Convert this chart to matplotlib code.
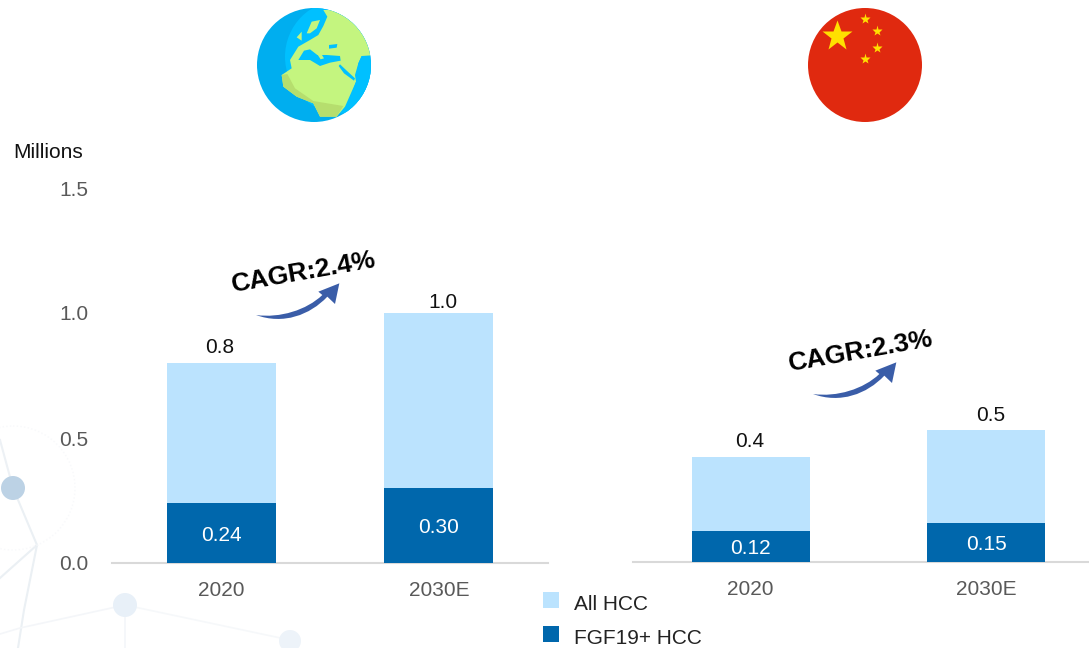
import matplotlib
matplotlib.use('Agg')
import matplotlib.pyplot as plt
from matplotlib.patches import Circle, Polygon, Rectangle, PathPatch
from matplotlib.path import Path

plt.rcParams['font.family'] = ['Liberation Sans', 'DejaVu Sans']

W, H = 1089, 648

categories = ['2020', '2030E']
world_all = [0.8, 1.0]
world_fgf = [0.24, 0.30]
china_all = [0.42, 0.53]
china_fgf = [0.125, 0.157]
world_total_labels = ['0.8', '1.0']
world_fgf_labels = ['0.24', '0.30']
china_total_labels = ['0.4', '0.5']
china_fgf_labels = ['0.12', '0.15']
yticks = [0.0, 0.5, 1.0, 1.5]
legend_labels = ['All HCC', 'FGF19+ HCC']

LIGHT = '#BBE3FE'
DARK = '#0067AC'
GREY = '#595959'
AXLINE = '#D9D9D9'
ARROW = '#3A5DA8'
SEA = '#00C0FF'
LAND = '#C4F57F'


def px_axes(fig, x0, x1, y_top, y_bot):
    return fig.add_axes([x0 / W, 1 - y_bot / H, (x1 - x0) / W, (y_bot - y_top) / H])


def draw_bars(ax, allv, fgf, total_labels, fgf_labels, nudges):
    xs = range(len(categories))
    ax.bar(xs, allv, width=0.5, color=LIGHT, zorder=2)
    ax.bar(xs, fgf, width=0.5, color=DARK, zorder=3)
    for i in xs:
        ax.annotate(total_labels[i], (i, allv[i]), xytext=nudges[i], textcoords='offset points',
                    ha='center', va='bottom', fontsize=15, color='#111111')
        ax.annotate(fgf_labels[i], (i, fgf[i] / 2), xytext=(0, -1.5), textcoords='offset points',
                    ha='center', va='center', fontsize=15, color='white', zorder=4)
    ax.set_xticks(list(xs))
    ax.set_xticklabels(categories)
    ax.set_ylim(0, 1.5)
    for s in ['top', 'right', 'left']:
        ax.spines[s].set_visible(False)
    ax.spines['bottom'].set_color(AXLINE)
    ax.spines['bottom'].set_linewidth(1.5)
    ax.tick_params(axis='x', length=0, pad=13, labelsize=15, labelcolor=GREY)
    ax.patch.set_alpha(0)


fig = plt.figure(figsize=(W / 100, H / 100), dpi=100)

# overlay in pixel coords for the decorations
bg = fig.add_axes([0, 0, 1, 1], zorder=0)
bg.set_xlim(0, W)
bg.set_ylim(H, 0)
bg.axis('off')

# faint network watermark
for x, y, c, lw in [
    ([13, 37, 24, 18], [488, 545, 610, 648], '#EBF0F4', 1.5),
    ([37, 0], [545, 578], '#EBF0F4', 1.5),
    ([0, 13], [440, 488], '#EDF1F5', 1.5),
    ([125, 20, 0], [605, 628, 634], '#F4F6F9', 1.2),
    ([125, 290], [605, 640], '#F6F8FA', 1.2),
    ([125, 125], [605, 648], '#F4F6F9', 1.2),
]:
    bg.plot(x, y, color=c, lw=lw, zorder=1)
bg.add_patch(Circle((13, 488), 12, fc='#BCD2E5', ec='none', zorder=2))
bg.add_patch(Circle((125, 605), 12, fc='#E8F0F8', ec='none', zorder=2))
bg.add_patch(Circle((290, 641), 11, fc='#EDF3F9', ec='none', zorder=2))
bg.add_patch(Circle((13, 488), 62, fc='none', ec='#F8F9FB', lw=1, ls=':', zorder=1))


def gz(pts):
    return [(x / 3 + 230, y / 3) for x, y in pts]


# globe
bg.add_patch(Circle((314, 65), 57, fc='#00AEEF', ec='none', zorder=3))
shapes = [
    (Circle((341.7, 56.7), 56.7), SEA),
    (Polygon(gz([(280, 30), (440, 30), (440, 165), (395, 168), (385, 190), (375, 225), (378, 245),
                 (345, 320), (320, 350), (270, 350), (250, 310), (200, 290), (160, 260), (155, 225),
                 (185, 205), (180, 180), (205, 140), (240, 120), (265, 105), (280, 78), (292, 50)])), LAND),
    (Polygon(gz([(155, 225), (172, 222), (195, 265), (250, 303), (340, 318), (320, 350), (270, 350),
                 (250, 310), (200, 290), (160, 260)])), '#B6DE6E'),
    (Polygon(gz([(205, 180), (222, 152), (240, 148), (262, 165), (290, 165), (330, 168), (332, 182),
                 (300, 188), (270, 198), (240, 180)])), SEA),
    (Polygon(gz([(250, 145), (262, 142), (282, 175), (272, 178)])), LAND),
    (Polygon(gz([(297, 135), (322, 132), (320, 143), (297, 146)])), SEA),
    (Polygon(gz([(200, 112), (215, 95), (215, 122)])), LAND),
    (Polygon(gz([(230, 100), (245, 65), (270, 60), (260, 85), (240, 100)])), LAND),
    (Polygon(gz([(330, 193), (348, 210), (375, 235), (372, 242), (342, 220), (326, 198)])), SEA),
    (Polygon(gz([(395, 168), (440, 190), (440, 260), (345, 345), (378, 245), (385, 190)])), SEA),
]
for p, c in shapes:
    p.set_facecolor(c)
    p.set_edgecolor('none')
    p.set_zorder(4)
    bg.add_patch(p)
    p.set_clip_path(Circle((314, 65), 57, transform=bg.transData))

# flag
bg.add_patch(Circle((865, 65), 57, fc='#E0290F', ec='none', zorder=3))
bg.plot([836.7], [36], marker='*', ms=23, color='#FFE000', mec='none', zorder=4)
for sx, sy in [(865, 19), (877, 31), (877, 48), (865, 59)]:
    bg.plot([sx], [sy], marker='*', ms=8, color='#FFE000', mec='none', zorder=4)

# globe and flag are cut off flat at the bottom
bg.add_patch(Rectangle((240, 122), 700, 6, fc='white', ec='none', zorder=5))

# bars
ax1 = px_axes(fig, 112, 548, 188, 563)
ax1.set_zorder(1)
ax1.set_xlim(-0.5, 1.5)
draw_bars(ax1, world_all, world_fgf, world_total_labels, world_fgf_labels, [(-1, 4), (3, 1)])
ax1.set_yticks(yticks)
ax1.set_yticklabels(['%.1f' % v for v in yticks])
ax1.tick_params(axis='y', length=0, pad=17, labelsize=15, labelcolor=GREY)

ax2 = px_axes(fig, 633, 1089, 187, 562)
ax2.set_zorder(1)
ax2.set_xlim(-0.5, 1.437)
draw_bars(ax2, china_all, china_fgf, china_total_labels, china_fgf_labels, [(-1, 4), (3.5, 3)])
ax2.set_yticks([])

# text and arrows on top
top = fig.add_axes([0, 0, 1, 1], zorder=2)
top.set_xlim(0, W)
top.set_ylim(H, 0)
top.axis('off')
top.text(13, 152.5, 'Millions', fontsize=15, color='#111111', ha='left', va='center')

arrow_pts = [(108, 225), (190, 255), (270, 225), (322, 170), (345, 192), (358, 130), (295, 155),
             (307, 165), (260, 210), (180, 235), (108, 225)]
arrow_codes = [Path.MOVETO, Path.CURVE4, Path.CURVE4, Path.CURVE4, Path.LINETO, Path.LINETO, Path.LINETO,
               Path.LINETO, Path.CURVE4, Path.CURVE4, Path.CURVE4]
for dx, dy, label in [(0, 0, 'CAGR:2.4%'), (557, 79, 'CAGR:2.3%')]:
    verts = [(x / 3 + 220 + dx, y / 3 + 240 + dy) for x, y in arrow_pts]
    top.add_patch(PathPatch(Path(verts, arrow_codes), fc=ARROW, ec='none'))
    top.text(303.5 + dx, 272 + dy, label, fontsize=19, fontweight='bold', color='black',
             rotation=10, ha='center', va='center', rotation_mode='anchor')

# legend
for y, c, label in zip([600, 634], [LIGHT, DARK], legend_labels):
    top.add_patch(Rectangle((543, y - 8), 16, 16, fc=c, ec='none'))
    top.text(574, y + 4, label, fontsize=15, color='#222222', ha='left', va='center')

fig.savefig('out.png', dpi=100)
